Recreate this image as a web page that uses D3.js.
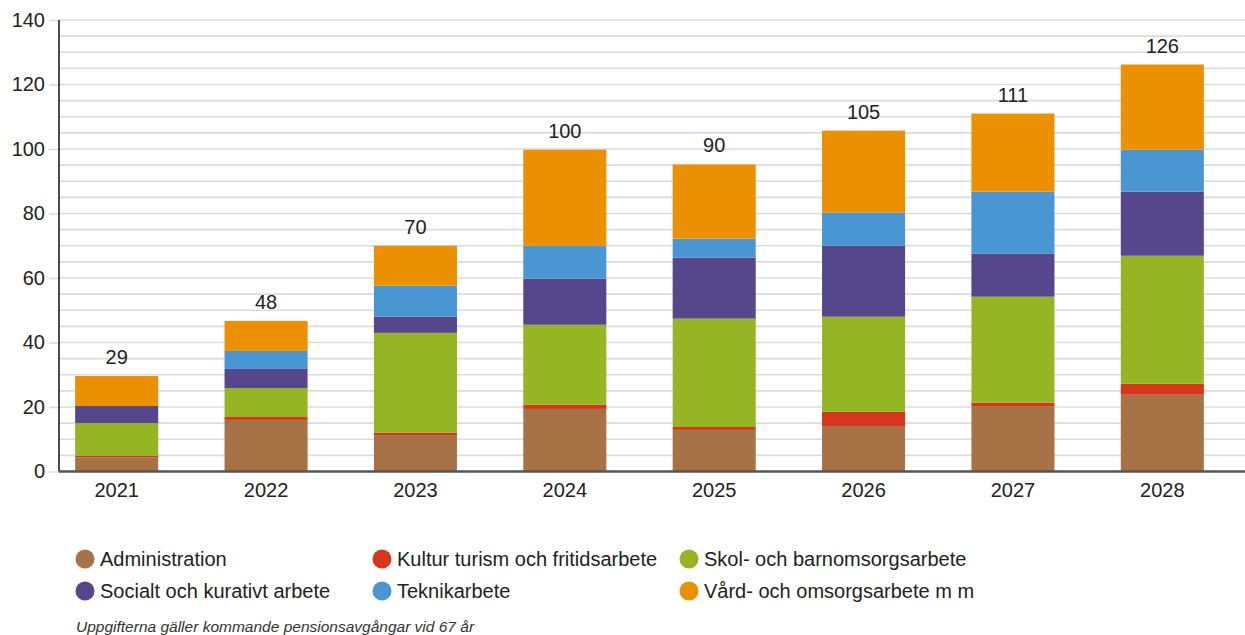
<!DOCTYPE html>
<meta charset="utf-8">
<style>
body { margin: 0; background: #fff; }
svg { font-family: "Liberation Sans", Arial, sans-serif; }
.grid line { stroke: #dcdcdc; stroke-width: 1.6; }
.y-axis .domain { display: none; }
.y-axis line { stroke: #dcdcdc; stroke-width: 1.6; }
.y-axis text, .x-label { font-size: 20px; fill: #222; }
.total { font-size: 20px; fill: #222; text-anchor: middle; }
.legend text { font-size: 20px; fill: #222; }
.note { font-size: 15.5px; font-style: italic; fill: #333; }
</style>
<body>
<svg id="chart" width="1245" height="635"></svg>
<script src="https://d3js.org/d3.v7.min.js"></script>
<script>

var years = ["2021", "2022", "2023", "2024", "2025", "2026", "2027", "2028"];
var categories = ["Administration", "Kultur turism och fritidsarbete", "Skol- och barnomsorgsarbete",
                  "Socialt och kurativt arbete", "Teknikarbete", "Vård- och omsorgsarbete m m"];
var colors = ["#a87247", "#d6361b", "#95b524", "#56478c", "#4a96d2", "#eb9000"];

var administration = [4.4, 16.0, 11.3, 19.4, 12.9, 14.1, 20.3, 23.8];
var kultur = [0.4, 0.9, 0.7, 1.3, 0.9, 4.4, 1.0, 3.4];
var skol = [10.2, 9.0, 31.0, 24.8, 33.6, 29.5, 32.9, 39.7];
var socialt = [5.3, 5.9, 5.0, 14.3, 18.9, 22.0, 13.3, 19.9];
var teknik = [0, 5.6, 9.6, 10.2, 5.9, 10.3, 19.3, 13.0];
var vard = [9.3, 9.3, 12.4, 29.8, 23.0, 25.4, 24.2, 26.4];
var totals = [29, 48, 70, 100, 90, 105, 111, 126];

var series = [administration, kultur, skol, socialt, teknik, vard];

// table for d3.stack
var rows = years.map(function(y, i) {
  var r = { year: y };
  categories.forEach(function(c, j) { r[c] = series[j][i]; });
  return r;
});

var svg = d3.select("#chart");
var plotLeft = 59, plotRight = 1245, plotTop = 20, plotBottom = 471.5;

var x = d3.scaleBand()
    .domain(years)
    .range([42, 1237])
    .paddingInner(0.444)
    .paddingOuter(0.222);

var y = d3.scaleLinear()
    .domain([0, 140])
    .range([plotBottom, plotTop]);

var color = d3.scaleOrdinal().domain(categories).range(colors);

// minor + major gridlines
svg.append("g")
  .attr("class", "grid")
  .selectAll("line")
  .data(d3.range(5, 141, 5))
  .enter().append("line")
    .attr("x1", plotLeft)
    .attr("x2", plotRight)
    .attr("y1", function(d) { return y(d); })
    .attr("y2", function(d) { return y(d); });

svg.append("g")
  .attr("class", "y-axis")
  .attr("transform", "translate(" + plotLeft + ",0)")
  .call(d3.axisLeft(y).tickValues(d3.range(0, 141, 20)).tickSize(10).tickPadding(4))
  .call(function(g) { g.attr("font-family", null).attr("font-size", null); });

var stacked = d3.stack().keys(categories)(rows);

svg.append("g")
  .selectAll("g")
  .data(stacked)
  .enter().append("g")
    .attr("fill", function(d) { return color(d.key); })
  .selectAll("rect")
  .data(function(d) { return d; })
  .enter().append("rect")
    .attr("x", function(d) { return x(d.data.year); })
    .attr("width", x.bandwidth())
    .attr("y", function(d) { return y(d[1]); })
    .attr("height", function(d) { return y(d[0]) - y(d[1]); });

// total labels above bars
var last = stacked[stacked.length - 1];
svg.append("g")
  .selectAll("text")
  .data(last)
  .enter().append("text")
    .attr("class", "total")
    .attr("x", function(d) { return x(d.data.year) + x.bandwidth() / 2; })
    .attr("y", function(d) { return y(d[1]) - 12; })
    .text(function(d, i) { return totals[i]; });

// axes lines
svg.append("line")
  .attr("x1", plotLeft).attr("x2", plotLeft)
  .attr("y1", plotTop).attr("y2", plotBottom)
  .attr("stroke", "#111").attr("stroke-width", 1.5);

svg.append("line")
  .attr("x1", plotLeft).attr("x2", plotRight)
  .attr("y1", plotBottom).attr("y2", plotBottom)
  .attr("stroke", "#555").attr("stroke-width", 2.5);

svg.append("g")
  .selectAll("text")
  .data(years)
  .enter().append("text")
    .attr("class", "x-label")
    .attr("text-anchor", "middle")
    .attr("x", function(d) { return x(d) + x.bandwidth() / 2; })
    .attr("y", 497)
    .text(function(d) { return d; });

// legend
var colX = [85, 382, 689], rowY = [559, 591];
var legend = svg.append("g").attr("class", "legend")
  .selectAll("g")
  .data(categories)
  .enter().append("g")
    .attr("transform", function(d, i) {
      return "translate(" + colX[i % 3] + "," + rowY[Math.floor(i / 3)] + ")";
    });

legend.append("circle")
  .attr("r", 9.5)
  .attr("fill", function(d) { return color(d); });

legend.append("text")
  .attr("x", 15)
  .attr("y", 6.5)
  .text(function(d) { return d; });

svg.append("text")
  .attr("class", "note")
  .attr("x", 76)
  .attr("y", 632)
  .text("Uppgifterna gäller kommande pensionsavgångar vid 67 år");

</script>
</body>
